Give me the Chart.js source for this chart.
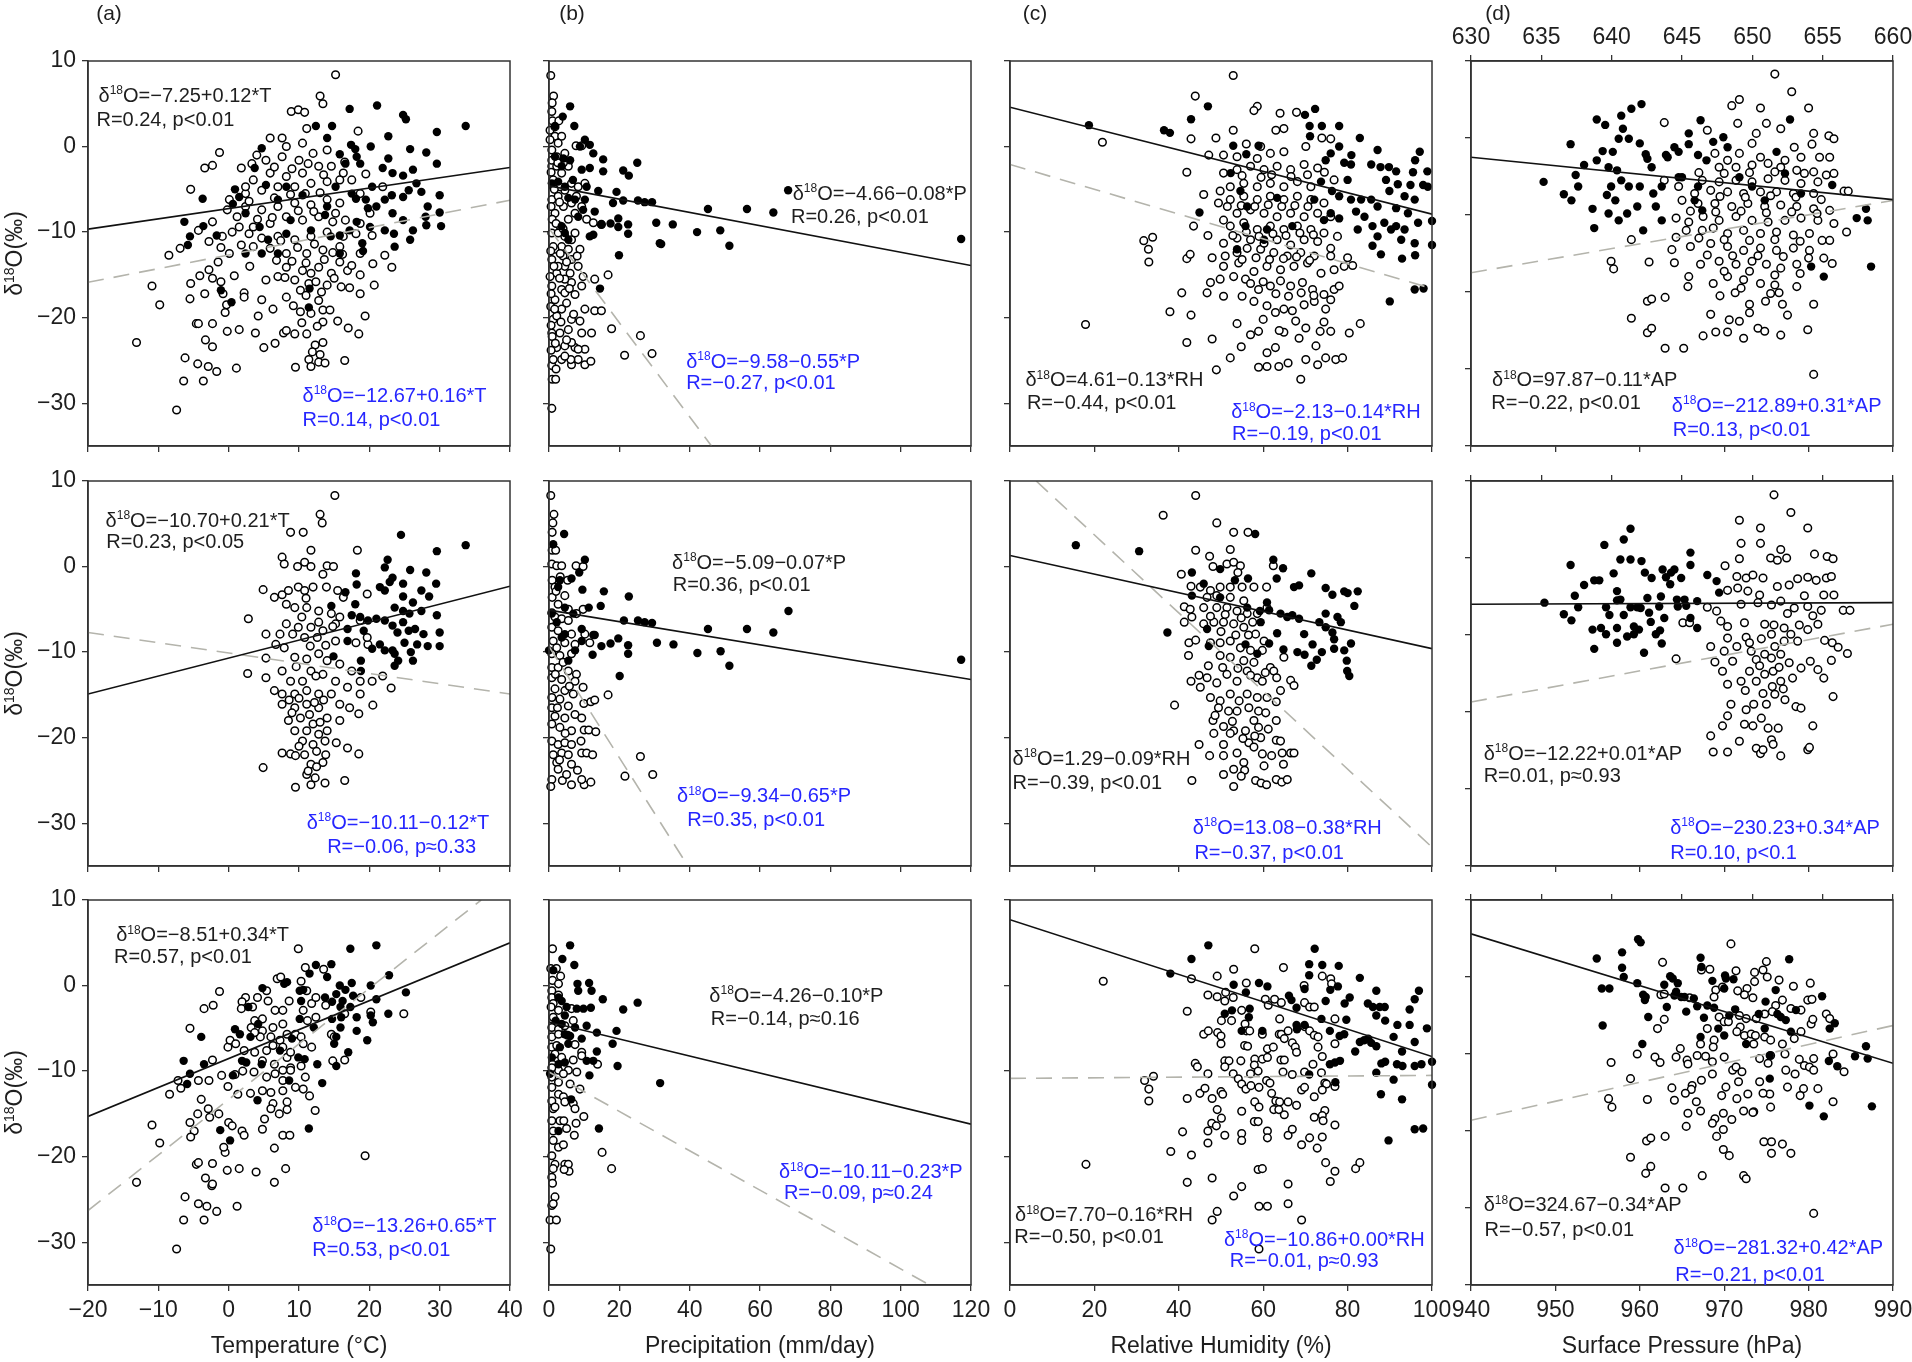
<!DOCTYPE html>
<html>
<head>
<meta charset="utf-8">
<script src="https://cdn.jsdelivr.net/npm/chart.js@4.4.1/dist/chart.umd.min.js"></script>
<style>
  html, body { margin: 0; padding: 0; background: #fff; overflow: hidden; }
  #fig { position: relative; width: 1912px; height: 1362px; }
  #fig canvas { position: absolute; }
</style>
</head>
<body>
<div id="fig"></div>
<script>
// ---- data: [x, d18O] ----
// row 1 : all samples
const aOpen1 = [[-13.1,-22.9],[-10.9,-16.3],[-9.8,-18.5],[-8.5,-12.7],[-7.4,-30.8],[-6.4,-27.4],[-6.2,-24.7],[-6.9,-11.9],[-5.4,-5.0],[-5.4,-16.0],[-5.5,-17.8],[-4.6,-20.7],[-4.3,-20.7],[-4.4,-25.4],[-3.6,-27.4],[-3.4,-2.5],[-2.3,-2.2],[-1.3,-0.7],[-3.3,-22.6],[-2.3,-23.4],[-2.3,-20.7],[-1.7,-26.3],[-2.9,-25.7],[-4.1,-15.1],[-3.4,-17.2],[-2.8,-14.4],[-2.3,-15.4],[-2.3,-8.8],[-2.8,-11.1],[-4.3,-9.8],[-0.9,-10.5],[-1.1,-11.8],[0.1,-12.5],[0.8,-15.1],[-1.1,-15.8],[-0.3,-18.5],[-0.5,-19.4],[-0.2,-21.6],[1.5,-21.4],[1.1,-25.9],[2.2,-17.1],[2.2,-17.6],[3.8,-21.8],[4.7,-17.9],[5.0,-23.5],[6.3,-19.0],[6.6,-23.0],[7.8,-21.8],[9.5,-25.8],[11.4,-24.9],[11.7,-25.7],[12.8,-25.2],[13.7,-25.3],[16.5,-25.0],[17.0,-21.2],[18.5,-21.9],[19.4,-19.8],[15.5,-20.4],[13.4,-20.5],[12.3,-23.2],[13.4,-22.9],[11.1,-21.9],[9.4,-21.9],[8.2,-21.5],[10.2,-19.3],[11.7,-19.5],[13.4,-19.1],[14.4,-19.1],[12.8,-18.0],[8.2,-17.6],[10.2,-16.8],[11.4,-16.0],[14.0,-16.2],[16.0,-16.4],[17.2,-16.5],[18.7,-17.2],[20.7,-16.2],[11.7,-14.8],[9.4,-15.6],[7.0,-15.2],[5.3,-15.6],[8.2,-14.1],[10.5,-14.5],[12.8,-14.1],[14.6,-14.8],[16.9,-14.5],[18.7,-15.0],[15.8,-13.5],[17.5,-13.9],[22.2,-12.7],[23.2,-14.1],[20.5,-13.7],[18.7,-12.5],[15.8,-11.7],[13.4,-12.1],[11.1,-12.5],[8.2,-12.5],[5.9,-11.9],[3.5,-11.7],[1.8,-11.5],[2.9,-10.2],[4.7,-10.7],[7.0,-10.5],[9.4,-10.9],[11.7,-10.5],[14.0,-10.0],[16.3,-10.5],[18.1,-10.2],[20.4,-10.4],[18.7,-9.0],[16.6,-8.6],[15.2,-7.8],[12.8,-8.2],[10.5,-8.6],[8.2,-8.2],[5.9,-9.0],[3.5,-9.4],[1.5,-9.4],[2.4,-7.0],[4.7,-7.4],[7.0,-7.0],[9.4,-6.6],[11.7,-6.8],[14.0,-6.2],[15.8,-6.6],[2.4,-5.5],[4.7,-5.1],[7.0,-4.7],[9.4,-4.7],[11.7,-4.3],[14.0,-4.1],[15.8,-3.9],[3.5,-3.9],[5.9,-3.1],[8.2,-3.5],[10.5,-3.1],[12.8,-2.3],[14.6,-2.3],[1.8,-2.5],[3.3,-2.0],[5.3,-1.6],[7.6,-1.2],[10.0,-1.6],[12.0,-0.8],[14.0,-0.4],[5.9,1.0],[7.6,1.0],[10.5,0.4],[11.1,2.1],[8.9,4.1],[9.9,4.3],[10.8,4.0],[13.0,5.9],[13.4,5.0],[15.2,8.4],[18.4,1.8],[8.2,0.0],[16.3,-3.1],[17.5,-3.9],[19.5,-3.2],[21.9,-4.7],[18.7,-5.5],[20.1,-7.8],[2.4,-4.7],[0.1,-6.2],[-0.2,-7.4],[1.2,-8.2],
  [6.5,-6.0],[8.8,-5.6],[10.9,-5.5],[13.0,-5.4],[6.2,-8.3],[9.9,-7.5],[12.1,-7.6],[14.8,-8.8],[7.4,-11.0],[9.8,-11.8],[12.2,-11.4],[14.8,-12.4],[6.8,-13.3],[9.0,-13.4],[11.0,-13.6],[13.6,-13.2],[16.2,-12.6],[8.0,-15.3],[12.4,-15.8],[15.0,-15.4],[9.2,-18.6],[11.0,-17.4],[13.2,-17.0],[10.4,-20.6],[12.6,-21.0],[11.9,-24.0],[13.0,-24.3],[4.0,-1.0],[6.5,-2.4],[9.0,-2.6],[11.3,-2.0],[13.5,-3.3],[16.5,-1.8],[2.9,-6.4],[4.1,-8.5],[0.5,-10.0],[-1.5,-13.5],[-0.8,-17.2],[3.0,-14.0],[4.2,-19.8]];
const aFill1 = [[17.2,4.4],[21.1,4.8],[24.8,3.7],[25.2,3.2],[33.7,2.4],[29.6,1.7],[12.4,2.4],[14.7,2.4],[14.0,1.0],[22.7,1.2],[20.2,0],[17.4,0.2],[18.0,-0.3],[15.8,-0.9],[18.2,-1.2],[16.6,-2.0],[18.7,-2.0],[22.7,-1.4],[21.9,-2.5],[23.3,-3.1],[24.8,-3.4],[25.8,-0.3],[28.1,-0.7],[29.6,-2.0],[26.7,-4.3],[25.6,-5.1],[24.8,-5.9],[23.2,-5.7],[20.4,-4.7],[19.5,-6.2],[21.0,-7.0],[22.2,-6.2],[23.3,-7.8],[24.8,-8.6],[26.2,-9.8],[28.1,-9.2],[30.0,-7.7],[30.0,-5.7],[27.4,-5.3],[28.3,-7.0],[18.2,-8.8],[20.1,-9.4],[22.2,-9.8],[23.6,-11.7],[19.0,-11.3],[19.1,-12.2],[17.2,-9.8],[15.8,-10.4],[14.0,-7.0],[10.5,-5.7],[8.2,-4.7],[7.0,-6.2],[5.3,-4.5],[4.7,-0.2],[3.7,-2.5],[1.5,-5.9],[0.9,-5.0],[0.6,-6.7],[2.4,-7.8],[4.4,-9.4],[5.6,-10.9],[7.0,-12.5],[8.2,-10.2],[8.8,-8.6],[11.7,-9.8],[13.7,-8.0],[14.5,-10.5],[15.8,-12.5],[4.7,-12.5],[2.4,-12.5],[-1.7,-10.4],[-3.7,-6.1],[-6.3,-8.8],[-5.5,-10.5],[-3.6,-9.3],[-5.8,-11.5],[-1.1,-16.8],[0.4,-18.2],[25.8,-10.9],[30.2,-9.3],[28.0,-8.2],[23.5,-10.2],[19.8,-7.2],[15.2,-4.7],[17.5,-5.5],[18.1,-6.1],[26.2,-2.7],[11.5,-16.6],[11.4,-18.8]];
const bOpen1 = [[0.5,8.3],[1.3,5.9],[0.9,5.1],[0.8,4.1],[0.3,1.9],[1.7,1.2],[3.6,1.2],[7.7,0.1],[9.3,0.1],[0.8,-30.6],[0.9,-27.2],[1.9,-27.2],[0.8,-25.6],[1.2,-24.9],[3.6,-24.9],[6.4,-25.5],[8.3,-24.9],[10.2,-25.5],[11.9,-25.1],[2.2,-23.5],[4.5,-23.3],[7.4,-23.5],[6.4,-22.9],[0.8,-21.8],[3.1,-21.8],[5.5,-21.4],[9.3,-21.8],[12.1,-21.8],[8.8,-20.4],[6.4,-20.2],[1.2,-20.2],[3.6,-19.0],[7.4,-17.3],[10.2,-19.0],[13.0,-19.2],[14.9,-19.2],[17.8,-21.3],[21.5,-24.4],[26.0,-22.1],[29.3,-24.2],[16.8,-15.0],[13.0,-15.5],[9.7,-15.2],[6.4,-15.9],[3.6,-16.7],[0.8,-16.3],[8.8,-12.0],[6.4,-13.2],[4.5,-14.0],[2.2,-14.8],[0.8,-13.2],[3.6,-11.7],[6.4,-10.9],[0.8,-10.1],[3.1,-9.3],[5.5,-8.5],[7.4,-7.8],[1.7,-7.8],[0.8,-6.2],[2.6,-5.8],[4.5,-5.1],[6.4,-4.3],[8.3,-4.7],[10.2,-4.3],[1.2,-3.9],[3.6,-3.1],[5.5,-2.3],[0.8,-2.3],[2.2,-1.2],[4.5,-0.8],[0.8,-0.4],[2.6,0.4],[0.3,0.8],[0.5,-18.7],[0.9,-22.2],[1.7,-17.9],[5.0,-18.3],[2.2,-19.8],[4.5,-17.1],[9.3,-16.3],[6.0,-14.8],[8.3,-14.0],[4.0,-12.8],[1.7,-12.0],[5.5,-12.0],[7.4,-10.1],[4.5,-10.5],[4.1,-7.0],[6.4,-6.6],[9.3,-7.0],[10.7,-8.5],[12.6,-8.9],[14.9,-9.1],[7.8,-5.8],[3.1,-4.7],[2.2,-2.3],[4.1,-1.9],[0.8,-1.6],[1.7,2.3],[1.2,-4.7],[0.9,-8.5],[2.6,-10.1],[1.2,-11.7],[0.3,-15.2],[2.6,-14.0],[4.5,-15.5],[10.2,-23.7],[8.3,-23.7],[6.2,-24.9],[4.5,-24.5],
  [0.6,-3.0],[1.5,-5.0],[0.6,-7.0],[2.0,-9.0],[0.5,-12.2],[1.4,-14.0],[0.6,-17.2],[1.6,-19.0],[0.6,-20.9],[1.8,-23.0],[0.6,-23.8],[2.0,-26.0],[3.0,-6.5],[4.0,-9.6],[3.2,-12.5],[5.0,-13.5],[3.0,-15.4],[5.8,-16.6],[3.4,-20.5],[5.0,-22.6],[7.0,-19.6],[8.0,-12.8],[2.5,-1.9],[1.0,3.0],[2.8,3.0]];
const bFill1 = [[6.0,4.7],[3.9,3.5],[7.2,2.4],[1.7,2.4],[10.2,0.8],[11.6,0.2],[8.8,0],[12.6,-0.8],[15.4,-1.5],[25.1,-1.9],[21.1,-2.8],[22.7,-3.4],[15.4,-2.9],[11.6,-2.5],[9.3,-2.7],[6.0,-1.6],[4.1,-1.4],[19.2,-5.3],[14.0,-5.2],[10.7,-4.7],[18.2,-6.6],[21.1,-6.3],[25.3,-6.3],[27.2,-6.5],[29.3,-6.5],[45.2,-7.3],[56.3,-7.3],[63.8,-7.7],[68.0,-5.1],[117.2,-10.8],[30.5,-8.9],[35.2,-9.1],[42.1,-10.0],[48.7,-9.8],[51.3,-11.6],[31.5,-11.3],[31.9,-11.4],[22.5,-10.2],[22.5,-9.1],[19.7,-8.4],[19.7,-9.4],[17.5,-9.0],[14.9,-9.1],[12.6,-10.3],[11.6,-10.5],[13.0,-7.6],[9.7,-7.4],[8.3,-8.2],[5.5,-10.9],[19.9,-12.7],[14.5,-16.6],[3.6,-9.3],[5.5,-6.0],[4.5,-4.7],[2.6,-4.1],[7.4,-6.2],[10.2,-6.2],[4.5,-10.1],[0.8,-4.3],[1.7,-1.2],[3.6,-2.3],[6.8,-3.9]];
const cOpen1 = [[52.9,8.3],[43.9,5.9],[58.6,4.7],[57.8,4.2],[64.0,3.9],[67.9,4.0],[63.0,1.9],[64.9,2.1],[52.9,1.9],[48.8,1.0],[42.9,0.9],[21.9,0.5],[41.9,-3.0],[73.9,1.0],[76.0,0.9],[70.1,0],[56.0,0.3],[59.4,0],[47.1,-1.0],[50.6,-1.0],[45.9,-5.6],[49.4,-6.6],[43.5,-9.3],[31.7,-11.0],[33.8,-10.6],[32.8,-12.0],[32.9,-13.5],[41.9,-13.1],[42.7,-12.6],[46.9,-10.4],[40.7,-17.1],[37.9,-19.3],[42.9,-19.7],[17.9,-20.8],[41.9,-22.9],[47.9,-22.5],[54.8,-23.4],[52.2,-24.7],[48.9,-26.1],[58.9,-25.8],[60.9,-25.7],[63.7,-25.7],[68.9,-27.2],[65.9,-25.3],[70.1,-24.9],[72.9,-25.5],[74.8,-24.7],[77.2,-24.9],[78.8,-24.7],[83.0,-20.7],[80.4,-21.8],[76.0,-21.6],[74.4,-20.5],[72.5,-23.3],[70.1,-21.2],[67.7,-20.4],[64.9,-21.7],[62.9,-23.5],[60.9,-24.1],[58.9,-21.6],[57.0,-22.0],[53.8,-20.7],[50.6,-17.5],[55.0,-17.5],[57.8,-18.1],[60.9,-18.6],[62.9,-19.4],[64.9,-19.0],[66.9,-19.2],[69.7,-18.5],[72.1,-18.1],[74.8,-19.0],[76.0,-17.9],[74.4,-17.3],[71.7,-16.7],[69.3,-15.9],[66.5,-16.3],[64.1,-15.7],[61.7,-16.3],[58.9,-16.7],[55.8,-15.5],[53.0,-15.2],[49.8,-15.5],[47.5,-15.9],[46.7,-17.1],[50.6,-14.0],[54.2,-13.6],[57.8,-14.6],[60.9,-14.0],[64.1,-14.4],[67.3,-14.0],[70.5,-13.6],[73.7,-14.8],[76.8,-14.4],[80.0,-13.0],[81.2,-13.9],[79.2,-14.0],[76.0,-12.8],[72.1,-12.8],[68.9,-12.4],[65.7,-12.8],[62.5,-12.4],[59.4,-12.0],[56.2,-11.9],[53.8,-12.4],[51.0,-12.8],[47.9,-13.0],[50.6,-11.3],[53.8,-10.7],[57.0,-10.9],[60.2,-11.3],[63.3,-10.9],[66.5,-11.5],[69.7,-10.9],[72.9,-11.1],[76.0,-11.9],[77.6,-10.5],[74.4,-10.1],[71.3,-9.7],[68.1,-9.3],[64.9,-9.7],[61.7,-9.3],[58.6,-9.7],[55.4,-8.9],[52.2,-9.3],[50.6,-8.6],[53.8,-7.8],[57.0,-7.4],[60.2,-7.8],[63.3,-8.2],[66.5,-7.8],[69.7,-8.2],[72.9,-7.8],[76.0,-8.2],[74.4,-6.6],[71.3,-6.2],[68.1,-5.8],[64.9,-6.2],[61.7,-5.8],[58.6,-6.2],[55.4,-5.8],[52.2,-6.2],[49.8,-5.2],[52.2,-4.7],[55.4,-4.3],[58.6,-4.7],[61.7,-4.3],[64.9,-4.7],[68.1,-4.1],[71.3,-4.7],[76.8,-3.9],[50.6,-3.1],[53.8,-2.7],[57.0,-2.3],[60.2,-2.7],[63.3,-2.3],[66.5,-2.7],[69.7,-2.1],[72.9,-2.5],[64.9,-0.6],[61.7,-0.8],[58.6,-1.4],[53.8,-1.2],[76.8,-16.7],[78.0,-16.3],
  [51.5,-7.0],[54.8,-6.9],[58.0,-7.0],[61.2,-6.8],[64.4,-7.0],[67.5,-6.9],[70.6,-7.0],[52.8,-10.4],[56.0,-10.0],[59.0,-10.5],[62.3,-10.2],[65.4,-10.4],[68.7,-10.1],[71.9,-10.3],[55.0,-13.2],[58.3,-13.0],[61.5,-13.2],[64.8,-13.1],[67.9,-12.9],[71.0,-13.3],[57.0,-16.0],[60.0,-15.8],[63.0,-17.2],[66.0,-17.5],[69.0,-17.1],[72.0,-17.4],[60.0,-20.2],[63.8,-21.5],[68.5,-22.4],[73.5,-21.6],[55.0,-3.4],[59.5,-3.6],[62.0,-3.3],[66.6,-3.5],[70.5,-3.3],[74.5,-3.0]];
const cFill1 = [[18.7,2.5],[36.5,1.9],[37.9,1.6],[42.9,3.2],[46.9,4.7],[69.9,3.7],[72.3,4.4],[71.0,2.4],[73.9,2.4],[78.0,2.4],[71.1,1.2],[82.9,1.0],[52.9,0.1],[58.9,0.1],[56.0,-0.9],[78.0,0],[87.1,-0.4],[80.9,-1.0],[97.1,-0.6],[96.0,-1.6],[79.2,-1.9],[80.8,-2.1],[85.6,-2.1],[87.8,-2.4],[89.8,-2.4],[91.5,-2.9],[95.5,-3.0],[98.9,-2.9],[74.8,-1.6],[76.0,-0.8],[73.7,-4.1],[76.3,-5.2],[80.0,-3.9],[89.1,-3.9],[91.9,-4.4],[94.9,-4.5],[97.9,-4.5],[99.0,-4.7],[78.0,-5.8],[80.8,-6.2],[83.2,-6.2],[85.6,-6.2],[87.1,-7.0],[89.9,-5.2],[93.5,-5.8],[95.9,-6.2],[91.5,-7.2],[94.3,-7.8],[76.0,-7.8],[78.0,-8.4],[74.4,-8.6],[82.0,-7.6],[84.0,-8.2],[88.7,-8.9],[91.5,-9.3],[93.5,-9.7],[96.7,-8.9],[100,-8.7],[82.4,-9.7],[85.9,-9.3],[87.1,-10.5],[90.3,-9.7],[92.7,-10.9],[95.9,-11.3],[100,-11.5],[85.9,-11.6],[87.9,-12.6],[92.9,-13.1],[96.0,-12.7],[95.9,-16.7],[98.0,-16.6],[90.0,-18.1],[44.9,-7.7],[52.3,-3.1],[54.6,-5.2],[56.2,-7.0],[63.3,-6.0],[66.9,-9.3],[72.1,-6.2],[60.9,-9.7],[55.8,-9.3],[53.8,-12.0],[60.2,-10.9]];
const dOpen1 = [[976.0,8.3],[978.0,6.0],[970.9,4.2],[971.8,5.0],[974.3,3.9],[980.0,3.9],[962.9,2.0],[968.0,1.0],[971.6,1.9],[973.8,0.6],[975.0,1.9],[976.7,1.2],[980.6,0.6],[982.4,0.3],[983.0,-0.1],[980.4,-0.8],[978.3,-1.2],[973.3,-0.7],[971.8,-2.0],[974.3,-2.5],[977.2,-2.9],[979.1,-2.5],[981.3,-2.5],[982.5,-2.5],[968.9,-2.0],[970.4,-2.9],[969.4,-3.8],[971.4,-3.8],[973.3,-3.5],[975.2,-3.3],[976.7,-3.8],[978.6,-4.2],[980.6,-4.4],[982.1,-4.8],[983.0,-4.6],[981.1,-5.7],[979.1,-5.9],[977.2,-5.5],[975.2,-5.3],[973.3,-5.7],[971.4,-5.5],[969.4,-5.7],[967.4,-5.5],[962.9,-5.5],[964.6,-6.3],[968.4,-6.8],[970.4,-7.0],[972.3,-7.2],[974.3,-7.0],[976.2,-7.0],[978.2,-7.2],[980.6,-7.2],[984.2,-6.9],[984.7,-6.9],[965.0,-8.1],[966.9,-8.5],[968.9,-8.5],[970.9,-8.9],[972.8,-8.5],[974.8,-8.9],[976.7,-8.7],[978.6,-8.9],[980.6,-9.2],[982.5,-9.4],[964.3,-10.4],[965.8,-10.9],[967.5,-10.2],[969.4,-10.7],[971.4,-10.2],[973.3,-10.7],[975.2,-10.9],[977.2,-10.7],[979.1,-10.4],[981.1,-10.7],[983.0,-11.1],[984.5,-12.2],[967.4,-12.0],[968.7,-11.7],[970.4,-12.4],[972.3,-12.0],[974.3,-12.4],[976.2,-12.2],[978.2,-12.6],[980.1,-12.4],[981.6,-13.3],[982.5,-13.3],[959.0,-13.2],[964.3,-12.9],[965.5,-12.0],[963.8,-14.5],[966.0,-14.1],[968.4,-13.7],[970.4,-14.1],[972.3,-14.6],[974.3,-14.3],[976.2,-14.6],[978.2,-14.3],[980.1,-14.6],[981.8,-15.6],[982.8,-16.3],[956.6,-16.0],[956.9,-17.0],[961.1,-16.1],[964.1,-16.2],[967.2,-16.4],[969.4,-16.0],[971.4,-16.4],[973.3,-16.0],[975.0,-16.4],[976.7,-16.9],[978.6,-16.4],[965.8,-18.0],[968.7,-18.9],[970.4,-18.0],[972.3,-18.4],[974.3,-18.9],[976.0,-19.1],[978.6,-19.3],[965.7,-19.3],[969.5,-20.5],[971.3,-20.1],[973.0,-21.6],[974.9,-21.2],[976.9,-21.6],[980.6,-21.6],[976.5,-20.1],[960.9,-21.2],[961.4,-20.9],[963.0,-20.7],[959.0,-23.4],[968.4,-22.9],[970.6,-23.6],[971.8,-23.8],[974.0,-24.7],[974.8,-25.1],[976.7,-25.6],[979.9,-24.9],[972.3,-26.0],[960.9,-25.3],[961.4,-24.7],[967.5,-25.7],[969.0,-25.2],[970.4,-25.2],[963.0,-27.3],[965.2,-27.3],[980.6,-30.7],
  [967.0,-4.5],[970.0,-4.6],[973.0,-4.5],[976.0,-4.4],[979.5,-4.6],[966.5,-7.2],[969.5,-7.6],[972.5,-7.7],[975.5,-7.5],[978.5,-7.7],[981.5,-8.0],[966.0,-9.5],[969.0,-9.6],[972.0,-9.5],[975.0,-9.7],[978.0,-9.6],[981.0,-9.8],[967.0,-13.0],[970.0,-13.2],[973.0,-13.3],[976.0,-13.2],[979.0,-13.4],[968.0,-15.2],[971.0,-15.3],[974.0,-15.3],[977.0,-15.4],[980.0,-15.6],[970.0,-17.3],[973.0,-17.3],[976.0,-17.8],[979.0,-17.6],[972.0,-19.5],[975.5,-20.2],[977.5,-23.0],[973.0,-22.7]];
const dFill1 = [[948.6,-5.7],[951.8,-0.8],[951.0,-7.3],[951.9,-8.1],[952.4,-4.8],[953.4,-3.5],[952.7,-6.3],[954.4,-9.2],[954.6,-11.7],[954.9,2.4],[955.9,1.7],[954.9,-2.9],[955.6,-1.7],[956.8,-1.8],[956.3,-3.8],[957.8,2.9],[958.0,1.2],[959.0,3.8],[960.2,4.4],[957.5,-0.1],[958.7,-0.1],[960.0,-0.7],[957.3,-4.2],[957.8,-5.5],[958.7,-6.3],[960.0,-6.3],[956.6,-6.3],[956.1,-7.4],[957.1,-8.1],[956.3,-9.8],[957.5,-10.7],[958.5,-9.8],[959.7,-8.9],[960.4,-12.0],[960.7,-2.1],[960.9,-2.7],[961.4,-3.8],[961.6,-7.2],[962.6,-10.7],[961.9,-8.9],[963.1,-2.2],[963.3,-2.5],[964.1,-1.2],[964.6,-1.8],[965.8,0.6],[965.8,-0.8],[965.0,-5.1],[966.9,-6.3],[967.2,2.3],[966.9,-2.2],[967.9,-2.9],[968.7,-0.5],[969.9,0.1],[970.4,-1.2],[971.8,-5.1],[973.3,-6.3],[974.8,-8.1],[976.2,-1.8],[977.8,2.4],[977.2,-4.6],[979.1,-7.2],[980.3,-16.7],[981.8,-18.0],[982.8,-6.1],[985.7,-10.4],[987.0,-10.7],[986.8,-9.2],[987.4,-16.7],[964.6,-5.1],[962.6,-6.3],[967.4,-9.4],[966.5,-8.1]];

// row 2
const aOpen2 = [[15.1,8.3],[13.0,6.1],[13.3,5.1],[8.8,4.0],[10.6,4.0],[11.7,1.9],[18.3,1.9],[7.6,1.1],[7.9,0.3],[9.8,0],[10.8,0.5],[11.7,0],[14.0,0.1],[14.9,0],[13.4,-0.9],[4.9,-2.7],[2.8,-6.1],[6.5,-3.6],[7.6,-3.3],[8.2,-4.4],[9.9,-2.4],[10.8,-2.8],[12.0,-2.4],[13.9,-2.4],[15.5,-2.8],[16.3,-3.6],[9.4,-4.8],[11.1,-4.8],[12.8,-5.2],[14.6,-5.5],[15.8,-5.9],[8.2,-6.7],[9.9,-7.1],[11.7,-7.1],[13.4,-7.5],[15.2,-6.7],[7.3,-7.9],[9.1,-7.9],[10.8,-8.3],[12.6,-8.3],[15.2,-8.7],[18.1,-8.9],[19.8,-9.1],[19.7,-3.2],[5.3,-10.7],[2.7,-12.5],[5.3,-13.0],[6.5,-14.5],[7.6,-12.2],[9.4,-10.6],[11.1,-10.8],[12.8,-10.2],[14.0,-11.0],[15.8,-11.4],[17.5,-12.2],[18.7,-13.4],[20.4,-13.4],[21.9,-12.8],[23.1,-14.2],[18.7,-14.9],[16.9,-14.1],[15.2,-13.4],[13.4,-12.6],[11.7,-12.2],[10.5,-13.4],[8.8,-13.4],[7.6,-14.9],[9.4,-14.9],[11.1,-14.5],[12.8,-14.9],[14.6,-14.9],[15.8,-16.1],[17.2,-16.5],[18.5,-17.2],[20.5,-16.2],[7.6,-16.1],[9.4,-16.5],[11.1,-16.1],[12.8,-16.5],[14.0,-17.7],[15.8,-18.0],[8.5,-18.0],[10.2,-17.7],[12.0,-18.4],[9.4,-19.2],[11.1,-19.2],[12.8,-19.6],[14.0,-19.2],[10.5,-20.4],[12.0,-20.8],[13.7,-20.4],[15.3,-20.6],[16.9,-21.2],[18.5,-21.9],[7.6,-21.8],[8.8,-21.9],[9.5,-22.1],[10.8,-22.0],[12.5,-21.6],[13.8,-22.0],[11.7,-23.1],[13.4,-22.9],[4.9,-23.5],[11.1,-24.3],[12.3,-24.7],[11.7,-25.5],[13.7,-25.3],[16.5,-25.0],[9.5,-25.8],[5.3,-7.9],[6.7,-9.1],[18.7,-6.3],[19.7,-8.3],
  [8.6,-15.6],[10.0,-15.4],[12.2,-15.9],[13.5,-15.6],[9.0,-17.1],[11.5,-17.3],[13.0,-18.2],[10.0,-21.0],[11.3,-23.9],[12.5,-23.4],[9.6,-11.7],[12.4,-12.8],[13.8,-9.2],[11.6,-9.3],[10.4,-5.9],[12.8,-6.5],[14.8,-7.0],[8.5,-2.8],[11.0,-3.7],[7.9,-9.5]];
const aFill2 = [[24.5,3.7],[33.7,2.5],[29.6,1.8],[22.6,0.8],[22.2,-0.1],[18.1,-0.8],[25.8,-0.4],[28.1,-0.7],[23.3,-1.3],[22.9,-1.8],[24.8,-2.0],[18.2,-2.1],[21.5,-2.4],[22.2,-2.8],[29.5,-2.0],[27.4,-2.8],[16.6,-3.0],[14.6,-4.6],[24.8,-3.5],[28.5,-3.5],[26.2,-4.2],[23.6,-4.8],[24.8,-5.2],[25.7,-5.5],[27.4,-5.2],[29.6,-5.7],[18.7,-5.9],[19.8,-6.3],[21.0,-6.1],[22.2,-6.3],[23.3,-6.9],[24.8,-6.5],[16.9,-7.3],[19.2,-7.5],[24.0,-7.7],[25.6,-7.5],[26.5,-7.3],[27.7,-7.9],[30.0,-7.7],[16.9,-8.7],[21.5,-9.1],[23.3,-9.8],[25.0,-8.9],[26.8,-9.1],[28.3,-9.3],[30.0,-9.3],[20.4,-9.6],[22.2,-9.8],[23.6,-10.2],[25.9,-10.0],[26.2,-11.0],[18.8,-11.0],[24.1,-11.0],[23.6,-11.6],[18.8,-12.2],[14.9,-10.5],[18.0,-4.4],[17.5,-5.7]];
const bOpen2 = [[0.5,8.3],[1.4,6.1],[1.1,5.1],[0.9,4.0],[0.9,1.9],[1.9,1.9],[0.8,0.3],[2.2,0.1],[3.6,0.1],[7.7,0.1],[9.7,0],[5.3,-1.6],[0.9,-1.6],[1.7,-2.4],[4.5,-3.4],[0.9,-3.6],[2.6,-4.4],[5.5,-5.0],[0.8,-5.4],[1.7,-5.9],[3.6,-6.1],[5.5,-6.3],[7.8,-5.5],[9.7,-5.0],[0.8,-7.1],[2.6,-7.5],[6.4,-7.9],[10.2,-7.9],[1.2,-8.7],[4.5,-8.9],[7.4,-9.1],[11.6,-8.9],[0.8,-10.2],[3.1,-10.4],[6.4,-10.2],[0.8,-11.8],[2.6,-11.8],[5.5,-12.2],[7.8,-12.6],[0.8,-13.0],[3.6,-13.2],[7.4,-13.4],[9.7,-14.1],[1.7,-14.3],[4.5,-14.5],[6.9,-14.9],[0.8,-15.3],[3.1,-15.5],[5.5,-16.3],[9.9,-16.0],[11.9,-15.8],[13.0,-15.6],[16.8,-15.0],[0.8,-16.5],[1.7,-17.5],[4.5,-17.7],[7.4,-17.3],[9.3,-17.7],[0.8,-18.4],[3.1,-18.8],[6.4,-19.2],[10.0,-19.1],[11.3,-19.1],[13.3,-19.3],[0.8,-20.4],[2.6,-20.8],[4.5,-20.6],[6.4,-20.8],[9.1,-20.4],[1.2,-22.0],[3.6,-21.8],[5.5,-22.0],[9.3,-21.8],[10.7,-21.8],[12.4,-22.0],[2.2,-22.9],[6.4,-23.1],[8.1,-23.8],[2.6,-23.7],[26.0,-22.2],[29.5,-24.3],[21.6,-24.5],[0.8,-24.9],[3.8,-25.0],[6.4,-25.5],[10.0,-25.5],[11.9,-25.2],[0.5,-25.7],[9.3,-24.9],
  [2.2,-9.5],[1.8,-12.6],[2.4,-16.5],[4.6,-19.5],[3.0,-22.6],[5.0,-24.3],[2.0,-2.9],[3.2,-1.2],[4.0,-11.2],[5.8,-14.0]];
const bFill2 = [[4.3,3.8],[10.2,0.8],[1.2,2.6],[8.6,-0.7],[6.4,-1.4],[3.1,-1.6],[9.5,-2.7],[15.6,-2.9],[22.7,-3.5],[14.7,-4.6],[11.3,-4.8],[68.1,-5.2],[21.3,-6.3],[25.3,-6.3],[27.2,-6.5],[29.3,-6.6],[9.3,-7.3],[6.9,-5.5],[45.2,-7.3],[56.3,-7.3],[63.8,-7.7],[13.0,-8.0],[12.6,-8.0],[4.5,-7.9],[9.3,-8.7],[14.9,-9.3],[17.5,-9.0],[19.7,-8.4],[22.5,-9.2],[22.5,-10.2],[30.7,-8.9],[35.4,-9.1],[42.2,-10.1],[48.8,-9.9],[51.3,-11.6],[12.4,-10.3],[7.4,-9.8],[5.5,-11.0],[20.1,-12.8],[117.2,-10.9],[0,-9.8],[3.6,-8.3],[2.2,-6.5],[0.8,-5.5],[4.5,-4.8],[2.6,-2.4]];
const cOpen2 = [[44.0,8.3],[36.3,6.0],[49.0,5.1],[53.0,4.0],[56.4,4.0],[44.0,1.9],[52.2,2.0],[47.3,1.2],[48.1,0],[51.4,0.3],[53.0,0.5],[54.6,0.1],[54.0,-0.7],[40.6,-0.9],[62.4,0.1],[60.8,-2.4],[42.9,-2.3],[45.1,-2.4],[47.5,-2.8],[49.8,-2.4],[52.2,-2.4],[55.0,-2.4],[57.8,-2.4],[46.7,-3.6],[49.0,-3.4],[52.2,-3.6],[55.4,-4.0],[41.3,-4.7],[42.7,-5.0],[45.9,-4.8],[49.0,-4.8],[51.4,-4.8],[53.8,-5.2],[56.2,-5.5],[58.6,-5.5],[60.9,-4.8],[41.3,-6.5],[43.1,-5.9],[45.9,-6.7],[48.3,-6.5],[50.6,-6.5],[53.0,-6.7],[55.4,-7.1],[58.2,-7.9],[60.2,-8.7],[42.4,-8.9],[44.0,-8.6],[47.5,-8.9],[49.8,-8.9],[52.2,-8.7],[54.6,-9.5],[57.0,-9.8],[59.8,-9.8],[42.3,-10.4],[49.8,-10.4],[52.2,-10.6],[55.4,-11.0],[57.8,-11.2],[61.7,-11.8],[62.5,-12.2],[64.9,-10.6],[42.9,-13.4],[44.8,-12.7],[46.7,-13.0],[49.0,-13.6],[51.4,-12.6],[53.8,-13.4],[56.2,-12.2],[58.6,-13.0],[59.8,-13.4],[63.2,-13.0],[66.5,-13.3],[67.3,-13.9],[64.1,-14.5],[63.1,-15.8],[45.1,-14.1],[47.5,-15.3],[49.8,-15.7],[52.2,-14.9],[54.3,-15.7],[56.2,-14.9],[58.6,-15.3],[60.9,-15.3],[49.4,-16.5],[51.8,-16.9],[53.8,-16.9],[56.6,-16.5],[58.9,-16.9],[60.6,-17.1],[39.0,-16.2],[48.1,-18.0],[50.6,-18.7],[53.0,-19.2],[55.8,-19.2],[57.8,-18.0],[58.9,-18.8],[63.1,-18.0],[48.3,-19.5],[52.2,-19.5],[56.6,-20.6],[59.4,-20.0],[63.1,-20.3],[64.1,-20.4],[44.8,-20.8],[50.6,-20.8],[53.8,-21.8],[57.8,-21.1],[59.8,-21.9],[62.0,-22.1],[64.5,-21.8],[66.5,-21.8],[67.3,-21.8],[47.3,-22.1],[50.6,-22.1],[55.4,-22.9],[60.2,-23.3],[64.8,-23.1],[43.1,-25.0],[50.6,-24.3],[53.0,-23.7],[55.6,-23.8],[54.8,-24.5],[53.0,-25.7],[58.2,-25.0],[59.5,-25.3],[60.8,-25.5],[63.1,-24.9],[64.4,-25.2],[65.7,-24.9],
  [50.0,-7.6],[53.5,-8.0],[56.5,-8.0],[47.0,-11.6],[50.4,-11.8],[54.0,-11.9],[57.0,-12.7],[60.5,-12.4],[48.6,-17.4],[52.7,-18.1],[55.2,-20.1],[58.0,-19.8],[61.2,-19.0],[47.5,-5.8],[51.0,-5.6],[54.8,-6.0],[57.5,-6.5]];
const cFill2 = [[15.6,2.5],[30.6,1.8],[58.1,3.8],[62.4,0.8],[64.7,-0.2],[71.4,-0.8],[43.1,-0.7],[49.8,-0.3],[56.4,-1.4],[63.2,-1.4],[74.8,-2.5],[76.4,-3.3],[79.2,-2.9],[80.0,-3.1],[82.4,-2.9],[81.6,-4.6],[67.3,-2.4],[68.5,-2.2],[45.9,-2.0],[43.1,-3.4],[60.9,-4.2],[64.1,-5.5],[65.7,-5.9],[66.9,-5.7],[68.5,-6.1],[73.3,-6.5],[74.8,-5.5],[77.6,-5.9],[78.4,-6.5],[74.8,-7.1],[76.4,-7.7],[76.8,-8.5],[80.8,-9.0],[79.2,-9.8],[76.8,-9.6],[71.7,-9.1],[69.7,-7.9],[63.3,-7.8],[61.4,-9.0],[64.8,-9.7],[68.1,-10.0],[69.8,-10.3],[73.9,-10.0],[72.7,-10.9],[71.4,-11.6],[79.8,-11.0],[79.9,-12.2],[80.4,-12.8],[37.3,-7.7],[46.7,-7.3],[47.1,-9.3],[55.8,-9.1],[58.6,-10.2],[59.4,-6.5],[56.2,-4.8],[59.2,-5.2],[61.4,-5.1],[49.8,-3.6],[53.3,-1.6]];
const dOpen2 = [[975.9,8.2],[977.9,5.9],[971.8,4.9],[974.3,3.9],[979.9,3.9],[972.0,1.9],[974.3,1.9],[976.7,1.1],[980.7,0.5],[971.8,-0.1],[975.5,0],[976.3,-0.3],[977.4,0],[982.2,0.2],[982.9,-0.1],[970.1,-1.0],[971.5,-2.4],[972.6,-2.6],[973.4,-2.2],[974.6,-2.6],[978.7,-2.7],[979.9,-2.5],[980.9,-2.9],[982.1,-2.6],[982.7,-2.4],[970.4,-4.2],[971.6,-3.9],[972.8,-4.3],[974.2,-4.8],[976.3,-3.7],[977.7,-3.5],[979.5,-4.9],[981.8,-4.8],[983.0,-4.8],[975.6,-6.1],[976.7,-5.6],[978.3,-6.5],[979.9,-6.3],[981.5,-6.8],[984.1,-6.8],[984.9,-6.8],[968.0,-6.4],[969.1,-6.9],[969.6,-8.2],[970.4,-8.9],[972.4,-8.4],[974.8,-8.6],[975.9,-8.7],[977.1,-9.1],[977.9,-9.9],[978.9,-8.7],[979.9,-9.3],[981.1,-8.6],[965.1,-8.4],[965.9,-8.4],[968.4,-11.5],[970.4,-10.4],[972.6,-10.3],[974.4,-10.5],[975.6,-9.9],[977.1,-10.8],[978.7,-10.8],[981.9,-10.7],[982.8,-11.0],[983.5,-11.6],[984.6,-12.4],[964.3,-13.1],[968.9,-13.5],[970.0,-12.1],[971.0,-13.4],[973.2,-12.1],[973.8,-13.2],[974.8,-12.5],[975.6,-13.0],[976.7,-12.5],[977.7,-13.6],[979.1,-14.3],[980.2,-13.4],[981.1,-14.5],[982.7,-13.3],[981.8,-15.6],[969.8,-14.7],[970.4,-16.4],[972.0,-16.0],[973.0,-14.7],[973.8,-16.0],[974.8,-15.1],[975.7,-16.7],[976.7,-16.0],[978.1,-15.6],[975.8,-14.7],[970.8,-19.0],[972.6,-19.7],[973.5,-19.0],[975.0,-19.0],[976.0,-17.7],[977.2,-18.4],[978.5,-19.3],[979.1,-19.5],[970.4,-20.5],[969.8,-21.8],[972.4,-21.6],[973.4,-21.8],[974.4,-20.8],[975.2,-22.1],[976.4,-22.1],[980.5,-21.8],[968.4,-23.1],[968.7,-25.2],[970.4,-25.2],[971.8,-23.8],[973.8,-24.7],[974.3,-25.4],[974.6,-24.9],[975.6,-23.6],[975.8,-24.2],[976.7,-25.7],[979.9,-24.9],[980.1,-24.6],[982.9,-18.0],
  [972.0,-6.0],[974.0,-5.8],[977.5,-7.2],[980.5,-7.5],[971.5,-11.5],[973.0,-11.0],[976.0,-11.5],[974.2,-14.0],[976.5,-14.2],[972.5,-17.2],[974.6,-17.6],[977.0,-17.0]];
const dFill2 = [[948.7,-5.8],[951.0,-7.3],[951.8,-0.9],[951.9,-8.1],[952.3,-4.9],[952.7,-6.4],[953.4,-3.5],[954.6,-2.9],[955.2,-2.9],[954.4,-9.3],[954.6,-11.8],[955.4,-9.1],[956.0,-9.9],[955.8,1.7],[956.0,-6.4],[956.4,-7.4],[956.9,-2.0],[957.3,-4.3],[957.3,-5.5],[957.3,-9.1],[957.3,-11.0],[957.7,-0.2],[957.7,-5.4],[958.1,2.4],[958.1,-7.4],[958.5,-10.2],[958.9,3.8],[958.9,-0.2],[958.9,-6.4],[959.3,-8.9],[959.3,-9.9],[959.7,-6.4],[960.2,-0.4],[959.9,-9.3],[960.1,-6.5],[960.5,-12.3],[960.6,-1.9],[960.9,-5.2],[961.1,-7.1],[961.3,-8.3],[961.4,-2.6],[961.9,-9.9],[962.4,-9.4],[962.5,-5.0],[962.7,-1.5],[962.9,-7.8],[963.1,-2.5],[963.6,-3.4],[963.7,-1.9],[964.1,-1.5],[964.9,-2.6],[964.4,-5.4],[965.3,-5.4],[964.5,-6.3],[966.0,0.7],[966.0,-0.9],[966.0,-7.8],[965.5,-6.2],[966.8,-5.6],[966.8,-9.1],[968.0,-2.2],[969.1,-3.0],[969.4,-4.5],[962.3,-6.3],[962.6,-11.1]];

// row 3
const aOpen3 = [[9.9,4.3],[10.9,2.1],[13.5,1.9],[6.9,0.8],[7.4,1.0],[10.3,0.5],[11.1,-0.6],[5.4,-0.6],[4.1,-1.4],[2.4,-1.4],[1.9,-1.9],[1.8,-2.7],[3.4,-2.5],[-1.3,-0.7],[-2.2,-2.3],[-3.5,-2.7],[-5.5,-5.0],[5.6,-1.8],[6.6,-2.9],[7.7,-2.9],[8.6,-1.8],[10.6,-2.9],[11.8,-2.1],[12.4,-1.4],[13.8,-2.3],[12.4,-3.7],[11.2,-4.1],[9.5,-5.7],[4.8,-3.9],[3.7,-4.1],[3.2,-4.9],[4.8,-5.3],[6.3,-4.9],[7.7,-4.5],[8.3,-5.7],[10.3,-6.0],[11.8,-7.2],[10.6,-6.8],[7.3,-6.4],[6.0,-6.0],[4.5,-6.0],[3.7,-5.5],[-0.1,-7.2],[0.2,-6.4],[1.0,-6.8],[-2.3,-8.7],[2.2,-7.6],[3.7,-7.8],[5.4,-7.6],[6.3,-7.0],[7.7,-7.2],[8.3,-8.4],[8.8,-7.8],[4.8,-8.8],[6.5,-9.2],[8.8,-9.6],[10.3,-9.4],[14.8,-8.8],[16.5,-8.7],[14.6,-5.7],[15.0,-6.0],[10.9,-10.7],[10.6,-12.1],[7.7,-9.9],[6.6,-10.3],[7.7,-11.1],[8.8,-9.9],[5.4,-10.7],[3.6,-10.1],[2.0,-10.0],[0.9,-10.4],[-1.0,-10.5],[-2.8,-11.1],[-4.3,-11.1],[-0.1,-11.8],[1.3,-12.7],[3.1,-12.6],[4.8,-12.3],[6.0,-12.5],[7.7,-12.3],[9.5,-11.9],[11.5,-12.9],[12.3,-14.6],[8.3,-13.6],[6.3,-13.8],[7.2,-15.0],[6.0,-14.4],[8.3,-14.5],[5.1,-15.6],[-1.4,-15.0],[-2.7,-15.4],[-3.9,-13.3],[-2.9,-14.4],[-4.4,-15.0],[0,-16.0],[0.5,-16.4],[1.9,-17.0],[2.2,-17.5],[4.8,-16.8],[7.7,-17.5],[8.7,-17.5],[6.5,-19.0],[-0.5,-19.5],[-0.7,-18.9],[-0.2,-21.6],[1.5,-21.4],[3.9,-21.8],[8.1,-21.4],[6.5,-23.0],[-2.3,-20.8],[-4.6,-20.9],[-4.3,-20.7],[-3.3,-22.5],[-2.4,-23.4],[-2.3,-23.2],[-5.5,-16.0],[-4.9,-17.0],[-5.4,-17.7],[-10.9,-16.3],[-9.8,-18.4],[-13.1,-23.0],[-6.2,-24.7],[-4.3,-25.5],[-3.1,-25.8],[-1.7,-26.4],[1.2,-25.8],[-6.4,-27.4],[-3.5,-27.4],[-7.4,-30.8],[19.4,-19.9],[-6.8,-12.0],[-8.4,-12.7],[-7.2,-11.1],[16.5,-3.3],[24.9,-3.3],[20.2,-3.1],[18.8,-1.4]];
const aFill3 = [[21.0,4.7],[17.3,4.3],[12.4,2.4],[14.6,2.5],[14.0,1.0],[11.5,1.4],[25.2,-0.8],[22.8,1.2],[20.2,0],[17.5,0.3],[15.8,0],[16.6,-0.5],[15.3,-1.0],[13.7,-1.4],[14.7,-1.9],[16.2,-1.8],[17.7,-1.2],[21.0,-1.6],[17.3,-2.5],[15.9,-2.5],[22.7,-3.3],[20.2,-3.5],[20.5,-4.3],[18.2,-5.3],[16.0,-3.7],[14.7,-3.9],[15.9,-4.9],[15.3,-6.0],[15.0,-6.8],[19.7,-6.4],[17.0,-7.8],[15.3,-9.4],[10.3,-1.8],[10.6,-0.5],[10.1,-0.6],[8.3,0.4],[7.9,0.2],[4.8,-0.3],[2.8,-2.5],[3.1,-6.0],[1.6,-5.7],[0.9,-5.1],[4.2,-4.5],[4.7,-9.2],[7.3,-7.6],[9.0,-6.2],[10.1,-3.9],[12.1,-4.9],[10.8,-8.6],[9.9,-8.4],[12.6,-9.2],[13.3,-11.4],[11.4,-16.7],[4.1,-13.4],[2.5,-9.0],[0.6,-10.5],[1.9,-8.8],[-1.2,-16.9],[0.2,-18.1],[-3.9,-6.0],[-3.5,-9.2],[-6.4,-8.8],[-5.5,-10.3],[-5.9,-11.5],[8.6,-11.1],[18.2,-3.7]];
const bOpen3 = [[1.0,4.3],[0.5,2.0],[2.1,2.0],[3.3,1.1],[1.0,0.6],[2.7,0.2],[0.8,-0.6],[0.8,-1.4],[2.7,-1.1],[1.2,-2.1],[2.7,-2.9],[6.4,-2.7],[1.2,-3.7],[0.8,-4.9],[2.7,-5.1],[4.5,-4.7],[6.9,-4.1],[0.8,-6.0],[2.7,-5.7],[5.3,-5.8],[7.4,-6.9],[9.3,-7.8],[9.3,-8.2],[13.8,-9.2],[0.8,-7.2],[1.7,-8.0],[3.6,-8.4],[6.9,-8.7],[1.0,-9.2],[2.7,-9.9],[5.5,-9.9],[7.9,-10.1],[0.8,-10.7],[2.7,-11.3],[4.1,-10.3],[8.8,-12.1],[0.8,-11.9],[2.7,-12.7],[4.1,-13.0],[4.5,-13.6],[6.9,-13.8],[7.4,-14.4],[0.8,-13.5],[1.2,-14.4],[0.8,-15.8],[3.1,-15.8],[4.2,-15.8],[5.0,-16.7],[7.2,-17.5],[7.7,-16.1],[9.9,-15.3],[1.2,-17.0],[1.2,-18.1],[2.7,-18.9],[4.1,-18.6],[0.8,-19.9],[1.7,-20.9],[4.5,-20.9],[5.5,-20.9],[5.7,-21.7],[4.3,-21.5],[1.2,-21.4],[0.8,-22.4],[1.0,-23.1],[1.7,-24.7],[0.8,-25.7],[1.2,-25.5],[0.3,-27.4],[2.1,-27.4],[0.5,-30.8],[15.1,-19.5],[17.8,-21.4],[0.6,-2.5],[2.2,-7.0],[0.8,-9.6],[6.0,-11.5],[1.7,-14.2]];
const bFill3 = [[6.0,4.7],[3.8,3.1],[7.2,2.4],[1.2,1.8],[8.1,0.2],[8.3,-0.6],[11.4,0.3],[12.1,-0.6],[15.3,-1.6],[25.2,-2.0],[21.1,-2.8],[11.9,-2.6],[9.8,-2.7],[7.9,-2.7],[5.0,-2.5],[3.6,-1.8],[2.7,-1.4],[4.5,-3.5],[3.6,-4.5],[7.4,-4.9],[10.7,-4.7],[13.6,-5.5],[19.2,-5.3],[9.3,-6.2],[6.0,-5.9],[18.1,-6.8],[13.6,-7.7],[10.7,-8.8],[12.6,-8.8],[19.5,-9.4],[4.5,-9.0],[2.7,-9.2],[0.8,-8.4],[11.5,-10.5],[31.6,-11.4],[6.3,-13.3],[14.2,-16.7],[2.7,-17.0],[1.9,-4.1],[3.1,-7.2],[5.5,-6.8],[0.3,-10.3],[4.5,-5.7]];
const cOpen3 = [[58.0,4.3],[53.0,1.9],[64.8,2.1],[22.1,0.5],[43.0,0.8],[49.1,1.1],[56.0,0.3],[69.7,0],[74.0,1.1],[76.0,0.8],[76.2,0.2],[46.9,-1.1],[49.1,-1.3],[51.1,-0.8],[50.9,-1.8],[52.9,-1.4],[60.5,-1.6],[62.7,-1.6],[61.2,-2.3],[64.3,-2.0],[69.8,-2.0],[71.0,-2.5],[72.1,-2.5],[42.0,-3.0],[54.9,-2.9],[63.9,-3.9],[50.1,-4.1],[52.5,-4.1],[77.0,-3.9],[45.9,-5.7],[47.0,-5.3],[49.2,-5.5],[50.0,-5.9],[50.0,-6.8],[55.7,-4.5],[56.0,-5.3],[56.8,-5.3],[63.8,-5.7],[64.3,-5.7],[65.9,-5.3],[65.0,-6.2],[66.9,-6.7],[69.8,-4.8],[71.0,-5.3],[72.1,-5.8],[73.0,-6.0],[73.0,-7.2],[77.0,-6.8],[59.8,-5.7],[55.6,-7.0],[56.3,-7.1],[61.0,-7.4],[62.4,-7.2],[67.6,-7.2],[67.9,-7.8],[64.2,-8.7],[65.0,-8.7],[54.7,-8.8],[58.0,-8.6],[59.8,-8.6],[61.0,-8.4],[50.9,-8.8],[51.9,-8.8],[43.9,-9.1],[44.4,-9.5],[50.9,-9.5],[57.9,-9.3],[64.7,-10.1],[66.9,-10.4],[71.8,-9.2],[69.8,-10.1],[74.0,-8.3],[52.9,-10.3],[54.1,-10.9],[57.0,-10.3],[58.8,-10.0],[46.9,-10.3],[31.9,-11.1],[32.9,-12.1],[34.0,-10.6],[32.9,-13.5],[42.0,-13.2],[45.0,-12.6],[46.2,-12.0],[47.9,-13.2],[50.0,-12.4],[50.4,-12.7],[54.9,-11.5],[55.9,-12.1],[57.1,-11.7],[59.0,-11.9],[60.8,-11.1],[61.6,-11.4],[62.0,-12.6],[69.1,-12.2],[69.8,-11.9],[72.1,-13.0],[74.6,-11.4],[75.0,-11.5],[74.0,-12.2],[77.0,-11.8],[73.8,-10.2],[49.1,-14.5],[54.9,-14.7],[58.0,-13.6],[59.0,-14.2],[62.5,-14.5],[63.0,-13.5],[63.9,-13.6],[65.9,-13.6],[67.9,-14.0],[65.0,-15.1],[63.7,-14.5],[74.6,-14.6],[74.0,-15.2],[74.2,-15.8],[72.1,-15.4],[77.0,-16.3],[47.8,-16.1],[48.9,-16.4],[50.1,-15.5],[46.9,-17.0],[57.9,-15.9],[58.8,-15.9],[61.0,-17.0],[61.0,-17.8],[65.9,-17.5],[66.9,-16.8],[50.9,-17.5],[54.9,-17.3],[54.9,-18.1],[46.9,-18.4],[40.9,-17.1],[69.1,-18.6],[71.0,-17.8],[72.8,-19.0],[74.0,-17.7],[38.1,-19.4],[43.0,-19.8],[74.8,-20.7],[77.0,-21.7],[81.9,-21.4],[82.9,-20.7],[58.8,-21.5],[59.8,-21.4],[18.0,-20.9],[42.0,-23.0],[47.9,-22.5],[54.9,-23.5],[65.9,-23.2],[75.9,-22.9],[53.0,-24.6],[59.0,-25.8],[61.0,-25.8],[65.9,-25.5],[47.9,-27.4],[49.1,-26.4],[69.1,-27.4],[59.0,-30.8]];
const cFill3 = [[47.0,4.7],[43.0,3.1],[38.0,1.4],[72.2,4.3],[70.9,2.5],[74.0,2.4],[77.9,2.3],[70.9,1.2],[82.9,0.9],[53.0,0.1],[59.0,0.3],[61.0,-0.1],[69.8,-0.4],[75.9,-0.5],[77.7,-0.1],[86.8,-0.6],[96.9,-0.6],[55.9,-0.8],[66.7,-1.7],[66.1,-1.2],[95.9,-1.6],[80.5,-1.4],[79.3,-2.1],[74.8,-1.8],[84.8,-2.1],[86.0,-2.5],[87.6,-2.5],[88.8,-2.5],[94.7,-2.8],[67.9,-2.6],[56.8,-2.7],[52.6,-2.9],[50.9,-3.3],[86.8,-3.5],[56.6,-3.7],[73.8,-3.9],[79.7,-4.0],[88.9,-4.1],[91.8,-4.6],[94.7,-4.6],[98.8,-5.0],[67.9,-4.6],[69.8,-4.6],[54.9,-5.3],[68.0,-5.1],[75.8,-5.3],[78.1,-5.9],[79.2,-5.7],[82.9,-6.6],[83.9,-6.4],[84.9,-6.2],[85.6,-6.7],[86.8,-7.1],[90.9,-6.0],[95.9,-6.6],[81.8,-7.7],[92.9,-7.7],[75.8,-9.2],[77.0,-9.0],[78.2,-8.8],[88.0,-9.1],[88.9,-8.9],[91.7,-9.2],[93.0,-9.4],[95.9,-9.4],[97.5,-9.2],[100,-8.9],[86.8,-10.2],[70.9,-10.4],[90.9,-11.0],[100,-11.6],[77.1,-11.3],[87.9,-12.7],[92.9,-13.3],[95.9,-16.8],[97.9,-16.7],[89.7,-18.1],[59.8,-5.3]];
const dOpen3 = [[970.8,4.3],[962.7,1.9],[975.0,2.0],[976.5,-0.4],[980.2,-0.8],[968.3,1.0],[967.3,0.9],[971.4,0.8],[973.6,0.6],[974.6,0.9],[975.1,0],[973.6,-0.6],[972.7,-1.5],[972.4,-2.3],[973.4,-2.7],[971.6,-1.8],[969.0,-1.7],[968.8,-2.6],[969.8,-1.3],[965.9,-2.7],[962.5,-2.3],[962.9,-5.5],[962.1,-6.7],[978.2,-1.2],[979.9,-3.0],[980.4,-2.9],[976.9,-3.0],[977.9,-4.1],[979.1,-4.3],[976.1,-3.7],[975.7,-4.5],[974.8,-4.8],[973.8,-5.4],[972.6,-5.4],[971.8,-5.0],[969.4,-5.2],[970.0,-5.8],[970.5,-5.8],[971.9,-6.5],[971.5,-7.1],[972.4,-7.6],[973.2,-7.4],[973.7,-7.6],[974.8,-7.8],[975.5,-8.2],[976.9,-8.7],[978.3,-8.0],[979.1,-7.1],[980.3,-6.1],[980.5,-5.5],[982.1,-4.8],[982.5,-5.4],[968.0,-6.7],[968.8,-8.2],[967.2,-8.7],[964.8,-9.3],[964.3,-10.4],[965.6,-10.8],[965.7,-11.3],[966.8,-10.2],[968.7,-9.1],[967.8,-10.3],[968.6,-11.0],[970.0,-10.4],[971.0,-12.1],[971.4,-11.7],[972.1,-12.3],[971.7,-13.6],[973.5,-8.7],[974.2,-10.6],[975.2,-11.2],[975.5,-10.2],[977.2,-10.0],[977.3,-12.1],[978.4,-12.6],[978.9,-10.7],[979.5,-11.5],[980.1,-11.7],[980.6,-10.6],[980.6,-12.1],[979.4,-14.5],[979.0,-15.4],[981.1,-14.5],[982.9,-10.0],[984.2,-12.3],[982.9,-16.2],[977.5,-14.3],[975.4,-15.2],[975.5,-16.9],[974.6,-15.1],[974.2,-13.6],[973.5,-17.5],[972.3,-17.4],[972.8,-15.2],[971.5,-15.8],[969.7,-15.4],[970.2,-14.3],[968.6,-12.6],[967.3,-13.4],[966.2,-14.1],[966.1,-14.6],[963.8,-14.4],[964.1,-16.0],[965.4,-15.1],[966.7,-16.2],[967.2,-17.4],[965.7,-17.7],[965.5,-19.4],[968.9,-18.4],[968.6,-19.0],[969.9,-17.7],[970.9,-18.5],[969.9,-19.8],[969.1,-20.7],[969.9,-22.4],[970.6,-23.2],[974.7,-21.4],[975.6,-21.4],[975.6,-22.9],[976.9,-21.7],[977.9,-22.9],[973.4,-17.6],[960.9,-15.9],[956.6,-11.1],[956.3,-15.8],[956.7,-16.9],[958.9,-13.2],[958.9,-23.4],[960.8,-21.3],[961.3,-20.9],[963.0,-20.7],[960.7,-25.5],[961.3,-24.6],[963.0,-27.4],[965.1,-27.4],[967.4,-25.8],[972.3,-25.8],[972.6,-26.2],[980.6,-30.7],[959.7,-10.0],[961.8,-10.4],[962.4,-11.1],[962.9,-2.2]];
const dFill3 = [[954.9,2.4],[955.5,-1.5],[956.4,-1.5],[955.6,-6.3],[957.9,3.2],[957.9,1.2],[958.1,0],[959.8,4.9],[960.1,4.5],[959.7,-0.8],[960.4,-2.3],[960.7,-2.6],[960.6,-3.0],[961.0,-5.2],[960.3,-8.7],[962.9,-1.0],[963.2,-3.9],[963.6,0.1],[963.9,-0.2],[964.5,-0.8],[964.3,-1.9],[964.1,-2.4],[964.9,-2.6],[965.3,-2.6],[965.5,-4.5],[966.4,-2.8],[966.8,-3.8],[967.2,2.5],[967.3,1.3],[967.2,-7.8],[967.6,-5.3],[968.0,-3.7],[968.6,-0.5],[968.8,-4.0],[969.3,-6.7],[970.0,-7.6],[970.1,0.2],[970.2,-0.2],[970.0,-1.5],[971.1,-0.3],[971.3,-4.2],[970.6,-5.0],[972.6,-8.7],[974.1,-4.8],[974.9,-3.2],[976.1,-1.7],[975.4,-13.2],[976.3,-4.8],[976.7,-5.2],[977.3,-5.6],[977.7,2.3],[977.9,-7.1],[978.5,-4.3],[980.1,-16.7],[981.6,-2.5],[981.8,-18.1],[982.5,-6.7],[983.1,-6.0],[982.4,-10.9],[983.4,-11.6],[985.5,-10.3],[986.8,-9.0],[987.0,-10.6],[987.5,-16.8],[975.4,-10.2],[974.8,-6.7]];

// regression lines, end points
const aLine1 = [[-20,-9.65],[40,-2.45]], aDash1 = [[-20,-15.87],[40,-6.27]];
const bLine1 = [[0,-4.6],[120,-13.9]],   bDash1 = [[0,-9.58],[46.2,-35]];
const cLine1 = [[0,4.6],[100,-7.9]],     cDash1 = [[0,-2.1],[100,-16.6]];
const dLine1 = [[940,-2.5],[990,-8.0]],  dDash1 = [[940,-17.5],[990,-8.1]];
const aLine2 = [[-20,-14.9],[40,-2.3]],  aDash2 = [[-20,-7.7],[40,-14.9]];
const bLine2 = [[0,-5.09],[120,-13.2]],  bDash2 = [[0,-9.34],[39.5,-35]];
const cLine2 = [[0,1.29],[100,-9.6]],    cDash2 = [[6.2,10],[100,-32.8]];
const dLine2 = [[940,-6.0],[990,-5.8]],  dDash2 = [[940,-18.7],[990,-8.6]];
const aLine3 = [[-20,-15.3],[40,5.0]],   aDash3 = [[-20,-26.3],[35.9,10]];
const bLine3 = [[0,-4.26],[120,-16.2]],  bDash3 = [[0,-10.11],[108.2,-35]];
const cLine3 = [[0,7.7],[100,-8.3]],     cDash3 = [[0,-10.85],[100,-10.5]];
const dLine3 = [[940,5.6],[990,-11.2]],  dDash3 = [[940,-18.6],[990,-6.3]];

// axes
const xTitles = ['Temperature (°C)', 'Precipitation (mm/day)', 'Relative Humidity (%)', 'Surface Pressure (hPa)'];
const xRanges = [[-20, 40, 10], [0, 120, 20], [0, 100, 20], [940, 990, 10]];
const topRange = [630, 660, 5];
const panelLetters = ['(a)', '(b)', '(c)', '(d)'];

// equation text: [x, y, text, blue?]
const notes = {
  a1: [[-18.5, 6.1, 'δ18O=−7.25+0.12*T'], [-18.8, 3.3, 'R=0.24, p<0.01'], [10.5, -29.0, 'δ18O=−12.67+0.16*T', 1], [10.5, -31.8, 'R=0.14, p<0.01', 1]],
  b1: [[69.3, -5.4, 'δ18O=−4.66−0.08*P'], [68.8, -8.1, 'R=0.26, p<0.01'], [39.0, -25.0, 'δ18O=−9.58−0.55*P', 1], [39.0, -27.5, 'R=−0.27, p<0.01', 1]],
  c1: [[3.65, -27.2, 'δ18O=4.61−0.13*RH'], [4.0, -29.8, 'R=−0.44, p<0.01'], [52.4, -30.9, 'δ18O=−2.13−0.14*RH', 1], [52.6, -33.5, 'R=−0.19, p<0.01', 1]],
  d1: [[942.5, -31.3, 'δ18O=97.87−0.11*AP'], [942.4, -34.3, 'R=−0.22, p<0.01'], [963.8, -34.6, 'δ18O=−212.89+0.31*AP', 1], [963.9, -37.8, 'R=0.13, p<0.01', 1]],
  a2: [[-17.5, 5.5, 'δ18O=−10.70+0.21*T'], [-17.4, 3.0, 'R=0.23, p<0.05'], [11.1, -29.8, 'δ18O=−10.11−0.12*T', 1], [14.0, -32.6, 'R=−0.06, p≈0.33', 1]],
  b2: [[35.0, 0.6, 'δ18O=−5.09−0.07*P'], [35.2, -2.0, 'R=0.36, p<0.01'], [36.4, -26.7, 'δ18O=−9.34−0.65*P', 1], [39.3, -29.5, 'R=0.35, p<0.01', 1]],
  c2: [[0.6, -22.3, 'δ18O=1.29−0.09*RH'], [0.6, -25.1, 'R=−0.39, p<0.01'], [43.3, -30.4, 'δ18O=13.08−0.38*RH', 1], [43.7, -33.3, 'R=−0.37, p<0.01', 1]],
  d2: [[941.5, -25.3, 'δ18O=−12.22+0.01*AP'], [941.5, -28.2, 'R=0.01, p≈0.93'], [963.6, -34.9, 'δ18O=−230.23+0.34*AP', 1], [963.6, -38.1, 'R=0.10, p<0.1', 1]],
  a3: [[-16.0, 6.0, 'δ18O=−8.51+0.34*T'], [-16.3, 3.5, 'R=0.57, p<0.01'], [11.9, -28.0, 'δ18O=−13.26+0.65*T', 1], [11.9, -30.8, 'R=0.53, p<0.01', 1]],
  b3: [[45.6, -1.05, 'δ18O=−4.26−0.10*P'], [46.0, -3.8, 'R=−0.14, p≈0.16'], [65.4, -21.7, 'δ18O=−10.11−0.23*P', 1], [66.8, -24.1, 'R=−0.09, p≈0.24', 1]],
  c3: [[1.2, -26.7, 'δ18O=7.70−0.16*RH'], [1.0, -29.2, 'R=−0.50, p<0.01'], [50.7, -29.6, 'δ18O=−10.86+0.00*RH', 1], [52.1, -32.0, 'R=−0.01, p≈0.93', 1]],
  d3: [[941.5, -29.5, 'δ18O=324.67−0.34*AP'], [941.6, -32.7, 'R=−0.57, p<0.01'], [964.0, -35.1, 'δ18O=−281.32+0.42*AP', 1], [964.2, -38.5, 'R=−0.21, p<0.01', 1]]
};

const panels = [
  [aOpen1, aFill1, aLine1, aDash1], [bOpen1, bFill1, bLine1, bDash1], [cOpen1, cFill1, cLine1, cDash1], [dOpen1, dFill1, dLine1, dDash1],
  [aOpen2, aFill2, aLine2, aDash2], [bOpen2, bFill2, bLine2, bDash2], [cOpen2, cFill2, cLine2, cDash2], [dOpen2, dFill2, dLine2, dDash2],
  [aOpen3, aFill3, aLine3, aDash3], [bOpen3, bFill3, bLine3, bDash3], [cOpen3, cFill3, cLine3, cDash3], [dOpen3, dFill3, dLine3, dDash3]
];

// ---- drawing ----
const FONT = '"Liberation Sans", Arial, sans-serif';
const INK = '#1e1e1e', AXIS = '#333', BLUE = '#2626ff', GREY = '#b4b4ac';
const colLeft = [88, 549, 1010, 1471], rowTop = [61, 481, 900], PW = 422, PH = 385;

const minus = v => String(v).replace('-', '−');
const xy = arr => arr.map(p => ({ x: p[0], y: p[1] }));

// text with the "18" of δ18O raised
function drawEq(ctx, x, y, s, color, size, measureOnly) {
  ctx.fillStyle = color;
  ctx.textAlign = 'left';
  ctx.textBaseline = 'alphabetic';
  const base = y + size * 0.36;
  const big = size + 'px ' + FONT, small = Math.round(size * 0.62) + 'px ' + FONT;
  let x0 = x;
  if (s.startsWith('δ18O')) {
    ctx.font = big;
    if (!measureOnly) ctx.fillText('δ', x0, base);
    x0 += ctx.measureText('δ').width;
    ctx.font = small;
    if (!measureOnly) ctx.fillText('18', x0, base - size * 0.38);
    x0 += ctx.measureText('18').width;
    s = s.slice(3);
  }
  ctx.font = big;
  if (!measureOnly) ctx.fillText(s, x0, base);
  return x0 + ctx.measureText(s).width - x;
}

const deco = {
  id: 'deco',
  afterDatasetsDraw(chart, args, o) {
    const { ctx, chartArea: a, scales } = chart;
    ctx.save();
    ctx.strokeStyle = AXIS;
    ctx.lineWidth = 1.5;
    ctx.strokeRect(a.left, a.top, a.right - a.left, a.bottom - a.top);
    o.notes.forEach(n => {
      drawEq(ctx, scales.x.getPixelForValue(n[0]), scales.y.getPixelForValue(n[1]), n[2], n[3] ? BLUE : INK, 20);
    });
    if (o.letter) {
      ctx.font = '21px ' + FONT; ctx.fillStyle = INK;
      ctx.textAlign = 'center'; ctx.textBaseline = 'middle';
      ctx.fillText(o.letter, a.left + 21 + o.col * 2, a.top - 47);
    }
    if (o.xTitle) {
      ctx.font = '23px ' + FONT; ctx.fillStyle = INK;
      ctx.textAlign = 'center'; ctx.textBaseline = 'middle';
      ctx.fillText(o.xTitle, (a.left + a.right) / 2, a.bottom + 62);
    }
    if (o.yTitle) {
      ctx.translate(a.left - 74, (a.top + a.bottom) / 2);
      ctx.rotate(-Math.PI / 2);
      const w = drawEq(ctx, 0, 0, 'δ18O(‰)', INK, 23, true);
      drawEq(ctx, -w / 2, 0, 'δ18O(‰)', INK, 23);
    }
    ctx.restore();
  }
};

const fig = document.getElementById('fig');

panels.forEach((p, i) => {
  const row = Math.floor(i / 4), col = i % 4;
  const isD = col === 3;
  const padL = col === 0 ? 88 : 30;
  const padR = isD ? 19 : 22;
  const padT = row === 0 ? 61 : 20;
  const padB = row === 2 ? 77 : 20;
  const cv = document.createElement('canvas');
  const W = PW + padL + padR, H = PH + padT + padB;
  cv.width = W; cv.height = H;
  cv.style.left = (colLeft[col] - padL) + 'px';
  cv.style.top = (rowTop[row] - padT) + 'px';
  cv.style.width = W + 'px'; cv.style.height = H + 'px';
  fig.appendChild(cv);

  const fit = (w, h) => s => {
    if (w != null) s.width = w;
    if (h != null) s.height = h;
    s.paddingLeft = s.paddingRight = s.paddingTop = s.paddingBottom = 0;
  };
  const grid = { drawOnChartArea: false, drawTicks: true, tickLength: 6, color: AXIS, lineWidth: 1.3 };
  const border = { display: true, color: AXIS, width: 1.5 };
  const tickFont = { family: FONT, size: 23 };
  const xr = xRanges[col];

  const scales = {
    x: {
      type: 'linear', position: 'bottom', min: xr[0], max: xr[1],
      ticks: { stepSize: xr[2], autoSkip: false, maxRotation: 0, padding: 6, color: INK, font: tickFont,
               callback: v => row === 2 ? minus(v) : '' },
      grid, border, afterFit: fit(null, padB)
    },
    y: {
      type: 'linear', min: isD ? -40 : -35, max: 10,
      afterBuildTicks: s => { s.ticks = s.ticks.filter(t => t.value % 10 === 0); },
      ticks: { stepSize: 10, autoSkip: false, padding: 6, color: INK, font: tickFont,
               callback: v => col === 0 ? minus(v) : '' },
      grid, border, afterFit: fit(padL, null)
    }
  };
  if (isD) {
    scales.x2 = {
      type: 'linear', position: 'top', min: topRange[0], max: topRange[1],
      ticks: { stepSize: topRange[2], autoSkip: false, maxRotation: 0, padding: 4, color: INK, font: tickFont,
               callback: v => row === 0 ? String(v) : '' },
      grid, border, afterFit: fit(null, padT)
    };
  }

  new Chart(cv, {
    type: 'scatter',
    data: {
      datasets: [
        { data: xy(p[2]), showLine: true, pointRadius: 0, borderColor: '#111', borderWidth: 1.6, clip: 0 },
        { data: xy(p[3]), showLine: true, pointRadius: 0, borderColor: GREY, borderWidth: 1.6, borderDash: [16, 10], clip: 0 },
        { data: xy(p[1]), pointRadius: 4.2, pointBackgroundColor: '#000', pointBorderColor: '#000', pointBorderWidth: 0, clip: false },
        { data: xy(p[0]), pointRadius: 3.8, pointBackgroundColor: '#fff', pointBorderColor: '#000', pointBorderWidth: 1.5, clip: false }
      ]
    },
    options: {
      responsive: false, animation: false, events: [],
      layout: { padding: { left: 0, right: padR, top: isD ? 0 : padT, bottom: 0 } },
      scales,
      plugins: {
        legend: { display: false }, tooltip: { enabled: false },
        deco: {
          notes: notes['abcd'[col] + (row + 1)],
          letter: row === 0 ? panelLetters[col] : null,
          col,
          xTitle: row === 2 ? xTitles[col] : null,
          yTitle: col === 0
        }
      }
    },
    plugins: [deco]
  });
});
</script>
</body>
</html>
